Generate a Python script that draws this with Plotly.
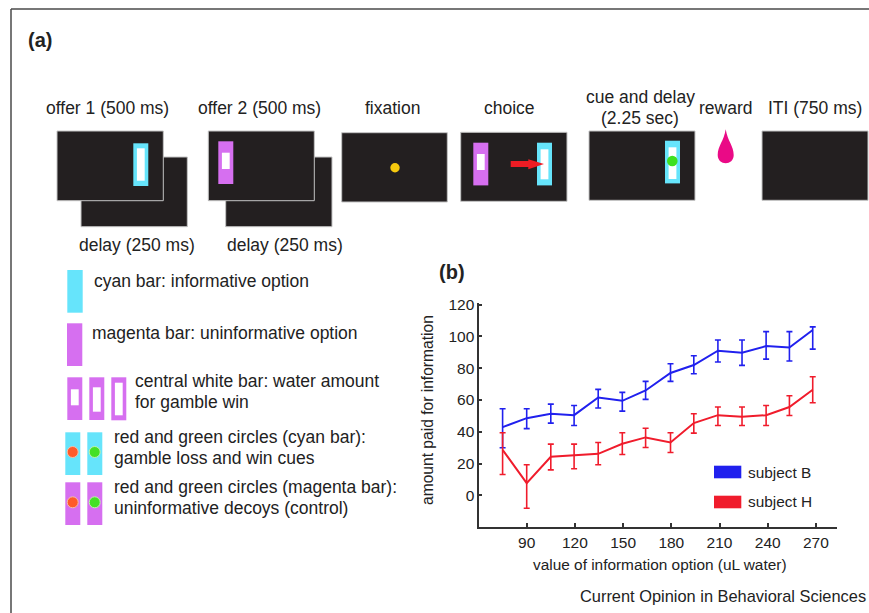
import plotly.graph_objects as go

W, H = 869, 613

# ---- chart data (panel b) ----
x_blue = [75, 90, 105, 119.5, 134.5, 149.5, 164, 179.5, 194, 209, 224, 239, 253.5, 268]
subject_b = [43, 48.6, 51.4, 50.5, 61.6, 59.5, 66, 77, 82, 91, 89.7, 93.9, 93, 104]
subject_b_hi = [54.5, 54.5, 57.4, 56.6, 66.7, 64.8, 71.7, 82.8, 87.8, 97.7, 97.7, 103, 103, 106]
subject_b_lo = [30, 42, 45.5, 44, 55, 53, 60.4, 71.7, 76.5, 83.9, 81.8, 85.7, 84.5, 92]
subject_h = [28.7, 7.8, 24.3, 25.2, 26.2, 32.5, 36.5, 33.3, 45.5, 50.5, 49.5, 50.5, 55.6, 66.5]
subject_h_hi = [39.4, 19.3, 32.3, 32.3, 33.3, 39.4, 42.3, 39.4, 51.4, 55.6, 55.6, 56.6, 62.7, 74.6]
subject_h_lo = [13.2, -8, 16.1, 16.8, 19.3, 25.8, 30.2, 27, 39.2, 44, 44, 44, 50.3, 58.3]
x_ticks = [90, 120, 150, 180, 210, 240, 270]
y_ticks = [0, 20, 40, 60, 80, 100, 120]

BLUE, RED = "#2020ee", "#f01c2c"
CYAN, MAG = "#66e4fb", "#d66ff0"
SCREEN = "#231f20"
FONT = "Liberation Sans"
TXT = "#222222"
BODY = 17.5

def fx(px): return px / W
def fy(py): return 1 - py / H

shapes, annotations = [], []

def rect(x0, y0, x1, y1, fill, line=None, lw=0):
    shapes.append(dict(type="rect", xref="paper", yref="paper",
                       x0=fx(x0), x1=fx(x1), y0=fy(y0), y1=fy(y1), fillcolor=fill,
                       line=dict(color=line or fill, width=lw)))

def dot(cx, cy, r, fill, line=None):
    shapes.append(dict(type="circle", xref="paper", yref="paper",
                       x0=fx(cx - r), x1=fx(cx + r), y0=fy(cy + r), y1=fy(cy - r), fillcolor=fill,
                       line=dict(color=line or fill, width=1 if line else 0)))

def poly(points, fill):
    d = "M " + " L ".join(f"{fx(a):.5f},{fy(b):.5f}" for a, b in points) + " Z"
    shapes.append(dict(type="path", xref="paper", yref="paper", path=d, fillcolor=fill,
                       line=dict(color=fill, width=0)))

def text(px, py, s, size=BODY, anchor="left", bold=False, angle=0):
    annotations.append(dict(xref="paper", yref="paper", x=fx(px), y=fy(py), text=f"<b>{s}</b>" if bold else s,
                            showarrow=False, xanchor=anchor, yanchor="middle", textangle=angle,
                            font=dict(family=FONT, size=size, color=TXT), borderpad=0, borderwidth=0))

def screen(x0, y0, x1, y1):
    rect(x0, y0, x1, y1, SCREEN, "#c4c4c4", 1)

def bar(x0, y0, colour, wy=None, w=15, h=42.7):
    rect(x0, y0, x0 + w, y0 + h, colour)
    if wy:
        rect(x0 + 3.6, wy[0], x0 + w - 3.6, wy[1], "white")

# frame
for seg in [(11, 9, 869, 9), (11, 9, 11, 613)]:
    shapes.append(dict(type="line", xref="paper", yref="paper", x0=fx(seg[0]), x1=fx(seg[2]),
                       y0=fy(seg[1]), y1=fy(seg[3]), line=dict(color="#4a4a4a", width=1.5)))

# timeline
screen(81, 157, 187.3, 226.7); screen(57, 131, 163.3, 200.7)
bar(133.3, 143.3, CYAN, wy=(148.3, 180.7))
screen(225.7, 157, 332, 226.7); screen(208.3, 131, 314.3, 200.7)
bar(218.3, 141.3, MAG, wy=(152.7, 169))
screen(341.7, 132.7, 447.3, 202)
dot(395, 167.7, 4.7, "#f6c90e")
screen(460.7, 132.3, 567, 201.3)
bar(473.3, 142.7, MAG, wy=(154, 170))
bar(537, 142.7, CYAN, wy=(149.3, 179.3))
poly([(510.7, 161), (528.3, 161), (528.3, 159.3), (544, 164), (528.3, 169.3), (528.3, 167), (510.7, 167)], "#ed1c24")
screen(589, 131, 695, 200.3)
bar(665, 140.7, CYAN, wy=(147.3, 179))
dot(672.3, 161, 5.3, "#3fe01f")
shapes.append(dict(type="path", xref="paper", yref="paper", fillcolor="#ea0a86", line=dict(color="#ea0a86", width=0),
                   path=(f"M {fx(725.7):.5f},{fy(129.3):.5f} "
                         f"C {fx(727.5):.5f},{fy(141):.5f} {fx(733.7):.5f},{fy(146):.5f} {fx(733.7):.5f},{fy(155):.5f} "
                         f"C {fx(733.7):.5f},{fy(166):.5f} {fx(717.7):.5f},{fy(166):.5f} {fx(717.7):.5f},{fy(155):.5f} "
                         f"C {fx(717.7):.5f},{fy(146):.5f} {fx(724):.5f},{fy(141):.5f} {fx(725.7):.5f},{fy(129.3):.5f} Z")))
screen(762, 131, 868, 200.3)

# key
rect(67.3, 270, 82.7, 312.7, CYAN)
rect(67, 323.3, 82.3, 366, MAG)
bar(67.3, 377.3, MAG, wy=(389.3, 405.3))
bar(89.3, 377.3, MAG, wy=(387.3, 411.7))
bar(111.3, 377.3, MAG, wy=(382.7, 415.3), h=43)
bar(65.3, 432.3, CYAN); bar(87.3, 432.3, CYAN)
dot(72.7, 452, 5.5, "#ff5a2a", "#f3c0a8"); dot(94.7, 452, 5.5, "#44e025", "#c0f0b0")
bar(65.3, 482.3, MAG); bar(87.3, 482.3, MAG)
dot(72.7, 502.3, 5.5, "#ff5a2a", "#f3c0a8"); dot(94.7, 502.3, 5.5, "#44e025", "#c0f0b0")

# legend of panel b
rect(714, 465.7, 741.3, 478.3, BLUE)
rect(714, 495.7, 741.3, 508.3, RED)
text(748, 472.7, "subject B", 15.4)
text(748, 501.7, "subject H", 15.4)

# texts
text(28, 40, "(a)", 20, bold=True)
text(439, 272, "(b)", 20, bold=True)
text(107, 108, "offer 1 (500 ms)", anchor="center")
text(259, 108, "offer 2 (500 ms)", anchor="center")
text(392, 108, "fixation", anchor="center")
text(509, 108, "choice", anchor="center")
text(640, 97, "cue and delay", anchor="center")
text(640, 118, "(2.25 sec)", anchor="center")
text(726, 108, "reward", anchor="center")
text(815, 108, "ITI (750 ms)", anchor="center")
text(137, 245, "delay (250 ms)", anchor="center")
text(285, 245, "delay (250 ms)", anchor="center")
text(94, 281, "cyan bar: informative option")
text(92, 333, "magenta bar: uninformative option")
text(135, 381, "central white bar: water amount")
text(135, 402, "for gamble win")
text(114, 437, "red and green circles (cyan bar):")
text(114, 458, "gamble loss and win cues")
text(114, 487, "red and green circles (magenta bar):")
text(114, 508, "uninformative decoys (control)")
text(580, 596, "Current Opinion in Behavioral Sciences", 16.4)
text(428, 410, "amount paid for information", 15.6, "center", angle=-90)
text(660, 564, "value of information option (uL water)", 15.4, "center")

def trace(name, x, y, hi, lo, colour):
    return go.Scatter(x=x, y=y, name=name, mode="lines", showlegend=False,
                      line=dict(color=colour, width=2),
                      error_y=dict(type="data", symmetric=False,
                                   array=[a - b for a, b in zip(hi, y)],
                                   arrayminus=[b - a for a, b in zip(lo, y)],
                                   color=colour, thickness=1.6, width=3))

fig = go.Figure([trace("subject B", x_blue, subject_b, subject_b_hi, subject_b_lo, BLUE),
                 trace("subject H", x_blue, subject_h, subject_h_hi, subject_h_lo, RED)])

axis_font = dict(family=FONT, size=15.5, color=TXT)
fig.update_layout(width=W, height=H, margin=dict(l=0, r=0, t=0, b=0), autosize=False,
                  paper_bgcolor="white", plot_bgcolor="white", showlegend=False,
                  shapes=shapes, annotations=annotations,
                  xaxis=dict(domain=[fx(479.3), fx(837.3)], range=[60.5, 283.3], tickmode="array", tickvals=x_ticks,
                             ticks="inside", ticklen=4, tickwidth=1.5, tickcolor="#333", showgrid=False, zeroline=False,
                             showline=True, linecolor="#333", linewidth=1.8, tickfont=axis_font, automargin=False),
                  yaxis=dict(domain=[fy(527.3), fy(303.3)], range=[-20, 120.8], tickmode="array", tickvals=y_ticks,
                             ticks="inside", ticklen=3, tickwidth=1.5, tickcolor="#333", showgrid=False, zeroline=False,
                             showline=True, linecolor="#333", linewidth=1.8, tickfont=axis_font, automargin=False))
fig.write_html("out.html", config={"displayModeBar": False},
               post_script="document.body.style.margin='0';document.body.style.overflow='hidden';")
